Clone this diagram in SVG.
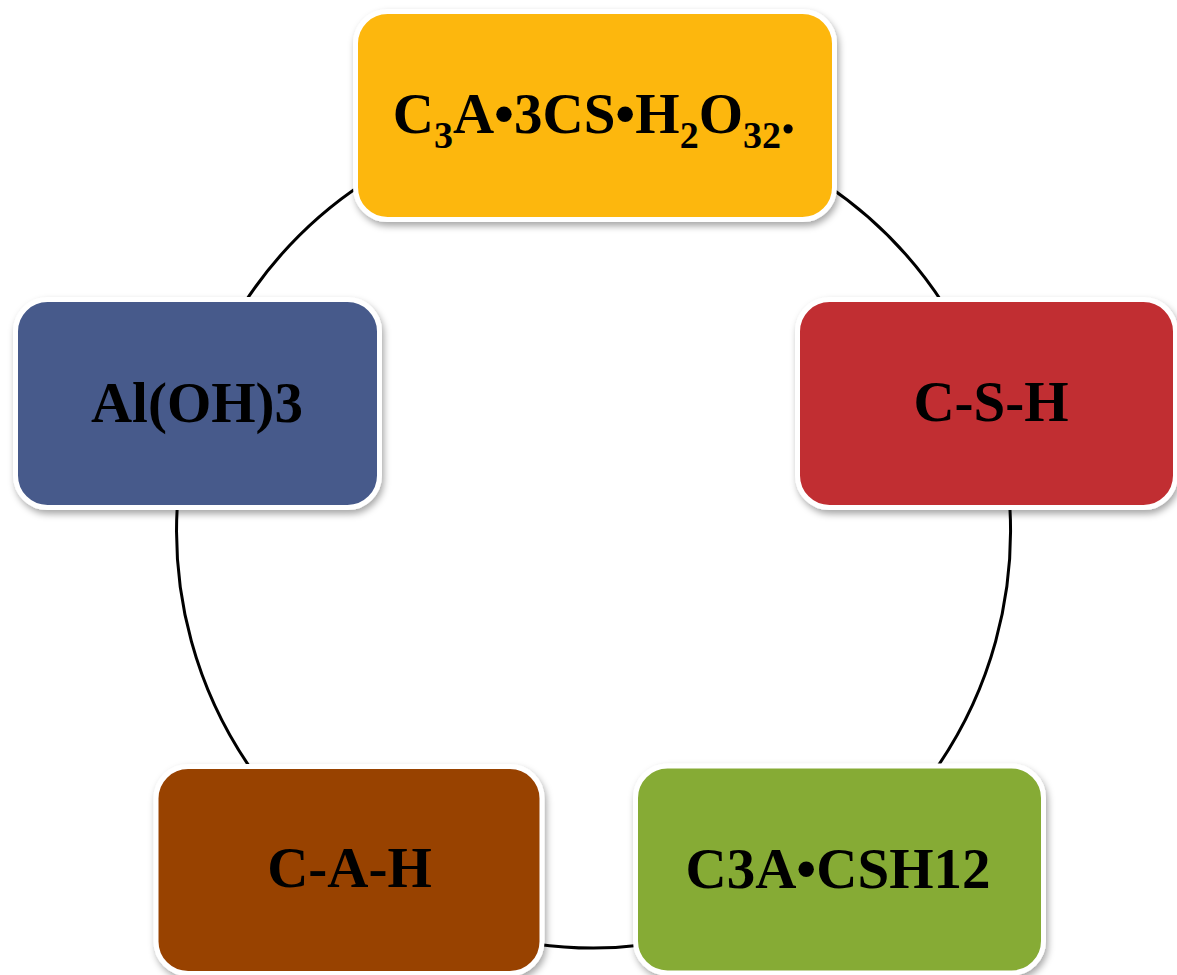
<svg xmlns="http://www.w3.org/2000/svg" width="1177" height="975" viewBox="0 0 1177 975">
<defs>
<filter id="shadow" x="-10%" y="-10%" width="120%" height="125%">
<feDropShadow dx="2" dy="4" stdDeviation="3.5" flood-color="#000" flood-opacity="0.35"/>
</filter>
<style>
.box { stroke: #ffffff; stroke-width: 5; filter: url(#shadow); }
.lbl { font-family: "Liberation Serif", "Times New Roman", serif; font-weight: bold; font-size: 57px; fill: #000; text-anchor: middle; }
.sub { font-size: 38px; }
.conn { fill: none; stroke: #000; stroke-width: 3; }
</style>
</defs>
<rect width="1177" height="975" fill="#ffffff"/>
<g id="connectors">
<path class="conn" d="M825,184 A417,417 0 0 1 944,305"/>
<path class="conn" d="M1009.4,500 A417,417 0 0 1 935.2,770"/>
<path class="conn" d="M645,944.8 A417,417 0 0 1 535,943.9"/>
<path class="conn" d="M251.8,770 A417,417 0 0 1 177.7,500"/>
<path class="conn" d="M243.1,305 A417,417 0 0 1 365,182.2"/>
</g>
<g id="node-ettringite">
<rect class="box" x="355.5" y="11.5" width="479" height="208" rx="32" fill="#FDB70E"/>
<text class="lbl" x="594" y="133">C<tspan class="sub" dy="15">3</tspan><tspan dy="-15">A•3CS•H</tspan><tspan class="sub" dy="15">2</tspan><tspan dy="-15">O</tspan><tspan class="sub" dy="15">32</tspan><tspan dy="-15">.</tspan></text>
</g>
<g id="node-csh">
<rect class="box" x="797.5" y="299.5" width="378" height="208" rx="32" fill="#C12E31"/>
<text class="lbl" x="991" y="421">C-S-H</text>
</g>
<g id="node-monosulfate">
<rect class="box" x="635.5" y="766" width="408" height="207" rx="32" fill="#86AB36"/>
<text class="lbl" x="838" y="888">C3A•CSH12</text>
</g>
<g id="node-cah">
<rect class="box" x="156" y="766.5" width="386" height="207" rx="32" fill="#984306"/>
<text class="lbl" x="349.5" y="887">C-A-H</text>
</g>
<g id="node-aloh3">
<rect class="box" x="15.5" y="299.5" width="364" height="208" rx="32" fill="#465A8B"/>
<text class="lbl" x="197" y="422">Al(OH)3</text>
</g>
</svg>
